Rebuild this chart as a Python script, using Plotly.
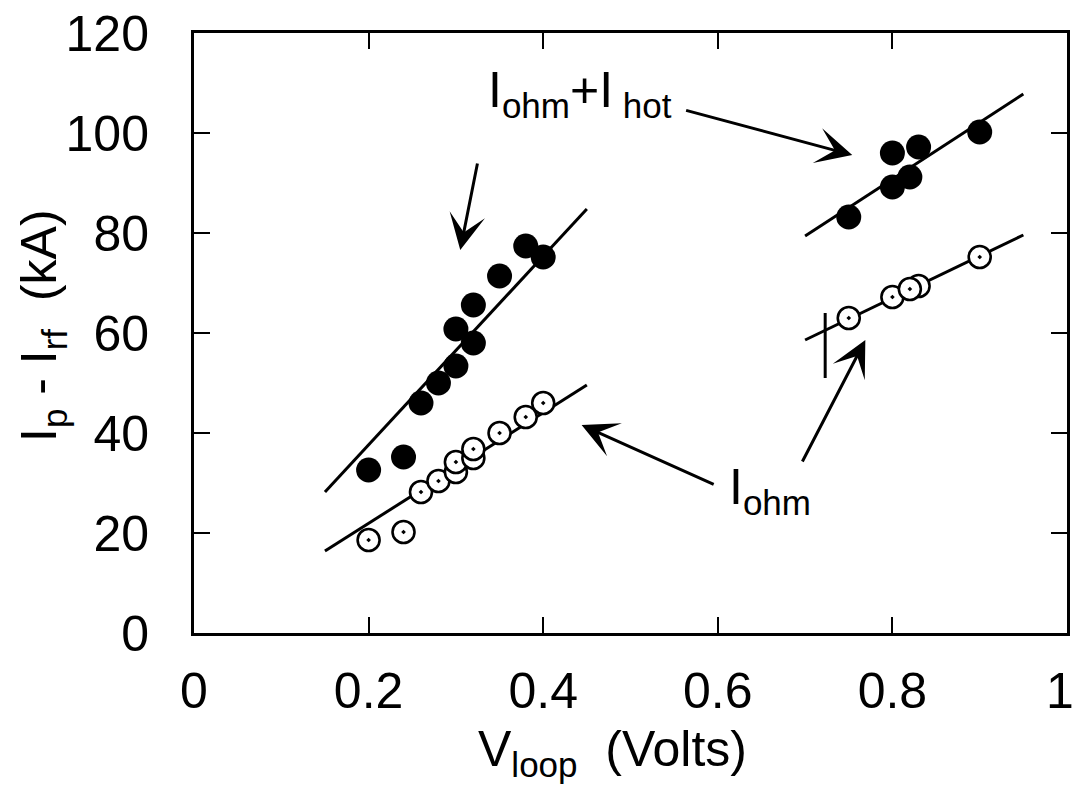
import plotly.graph_objects as go

# Data: I_ohm + I_hot (filled circles)
v_hot = [0.20, 0.24, 0.26, 0.28, 0.30, 0.30, 0.32, 0.32, 0.35, 0.38, 0.40,
         0.75, 0.80, 0.80, 0.82, 0.83, 0.90]
i_hot = [32.6, 35.2, 46.0, 50.0, 53.4, 60.8, 58.0, 65.6, 71.4, 77.4, 75.2,
         83.2, 89.2, 96.0, 91.2, 97.2, 100.2]

# Data: I_ohm (open circles with dot)
v_ohm = [0.20, 0.24, 0.26, 0.28, 0.30, 0.30, 0.32, 0.32, 0.35, 0.38, 0.40,
         0.75, 0.80, 0.83, 0.82, 0.90]
i_ohm = [18.6, 20.2, 28.2, 30.4, 32.2, 34.2, 35.0, 36.8, 40.0, 43.2, 46.0,
         63.0, 67.2, 69.4, 68.8, 75.2]

# Fit lines
fit_left_v = [0.15, 0.45]
fit_hot_left_i = [28.2, 84.8]
fit_ohm_left_i = [16.4, 49.6]
fit_right_v = [0.70, 0.95]
fit_hot_right_i = [79.4, 107.8]
fit_ohm_right_i = [58.6, 79.6]

# small vertical marker
vbar_v = [0.723, 0.723]
vbar_i = [51.0, 64.0]

x_ticks = [0, 0.2, 0.4, 0.6, 0.8, 1]
x_tick_text = ["0", "0.2", "0.4", "0.6", "0.8", ""]   # "1" drawn as annotation (edge)
x_last_label = "1"
y_ticks = [0, 20, 40, 60, 80, 100, 120]

FONT = "Liberation Sans, Arial, Helvetica, sans-serif"

fig = go.Figure()
line_style = dict(color="black", width=3)
for xs, ys in [(fit_left_v, fit_hot_left_i), (fit_left_v, fit_ohm_left_i),
               (fit_right_v, fit_hot_right_i), (fit_right_v, fit_ohm_right_i),
               (vbar_v, vbar_i)]:
    fig.add_trace(go.Scatter(x=xs, y=ys, mode="lines", line=line_style,
                             showlegend=False, hoverinfo="skip"))

fig.add_trace(go.Scatter(x=v_ohm, y=i_ohm, mode="markers", showlegend=False,
                         marker=dict(symbol="circle-dot", size=22, color="white",
                                     line=dict(color="black", width=2.6))))
fig.add_trace(go.Scatter(x=v_hot, y=i_hot, mode="markers", showlegend=False,
                         marker=dict(symbol="circle", size=25, color="black",
                                     line=dict(width=0))))

# arrows: (tail_x, tail_y, head_x, head_y)
arrows = [
    (0.325, 94.2, 0.305, 76.6),
    (0.562, 104.6, 0.754, 95.6),
    (0.597, 29.6, 0.444, 41.6),
    (0.696, 34.0, 0.769, 58.6),
]
for tx, ty, hx, hy in arrows:
    fig.add_annotation(x=hx, y=hy, ax=tx, ay=ty, xref="x", yref="y",
                       axref="x", ayref="y", text="", showarrow=True,
                       arrowhead=3, arrowsize=2.0, arrowwidth=3,
                       arrowcolor="black", standoff=0, startstandoff=0)

fig.add_annotation(x=0.442, y=108, xref="x", yref="y", showarrow=False,
                   text="I<sub>ohm</sub>+I<sub> hot</sub>",
                   font=dict(family=FONT, size=50, color="black"))
fig.add_annotation(x=0.66, y=28.6, xref="x", yref="y", showarrow=False,
                   text="I<sub>ohm</sub>",
                   font=dict(family=FONT, size=50, color="black"))

W, H = 1076, 803
L, R, T, B = 194, 9, 33, 170
pw, ph = W - L - R, H - T - B

def px_to_paper(px, py):
    return (px - L) / pw, (H - py - B) / ph

# last x tick label, nudged inside the page
tx, ty = px_to_paper(1060, 691)
fig.add_annotation(x=tx, y=ty, xref="paper", yref="paper",
                   xanchor="center", yanchor="middle", showarrow=False,
                   text=x_last_label, borderpad=0,
                   font=dict(family=FONT, size=50, color="black"))

# axis titles
tx, ty = px_to_paper(612, 752)
fig.add_annotation(x=tx, y=ty, xref="paper", yref="paper",
                   xanchor="center", yanchor="middle",
                   text="V<sub>loop</sub>  (Volts)", showarrow=False,
                   font=dict(family=FONT, size=50, color="black"))
tx, ty = px_to_paper(42, 326)
fig.add_annotation(x=tx, y=ty, xref="paper", yref="paper",
                   xanchor="center", yanchor="middle",
                   text="I<sub>p</sub> - I<sub>rf</sub>  (kA)", showarrow=False,
                   textangle=-90,
                   font=dict(family=FONT, size=50, color="black"))

axis_common = dict(showline=True, linecolor="black", linewidth=3, mirror="ticks",
                   ticks="inside", ticklen=16, tickwidth=2, tickcolor="black",
                   showgrid=False, zeroline=False, ticklabeloverflow="allow",
                   automargin=False,
                   tickfont=dict(family=FONT, size=50, color="black"))

fig.update_xaxes(range=[0, 1], tickvals=x_ticks, ticktext=x_tick_text,
                 ticklabelstandoff=12, **axis_common)
fig.update_yaxes(range=[0, 120], tickvals=y_ticks,
                 ticklabelstandoff=32, **axis_common)

fig.update_layout(width=W, height=H, margin=dict(l=L, r=R, t=T, b=B, autoexpand=False),
                  plot_bgcolor="white", paper_bgcolor="white",
                  font=dict(family=FONT, color="black"))

fig.write_html("out.html")
